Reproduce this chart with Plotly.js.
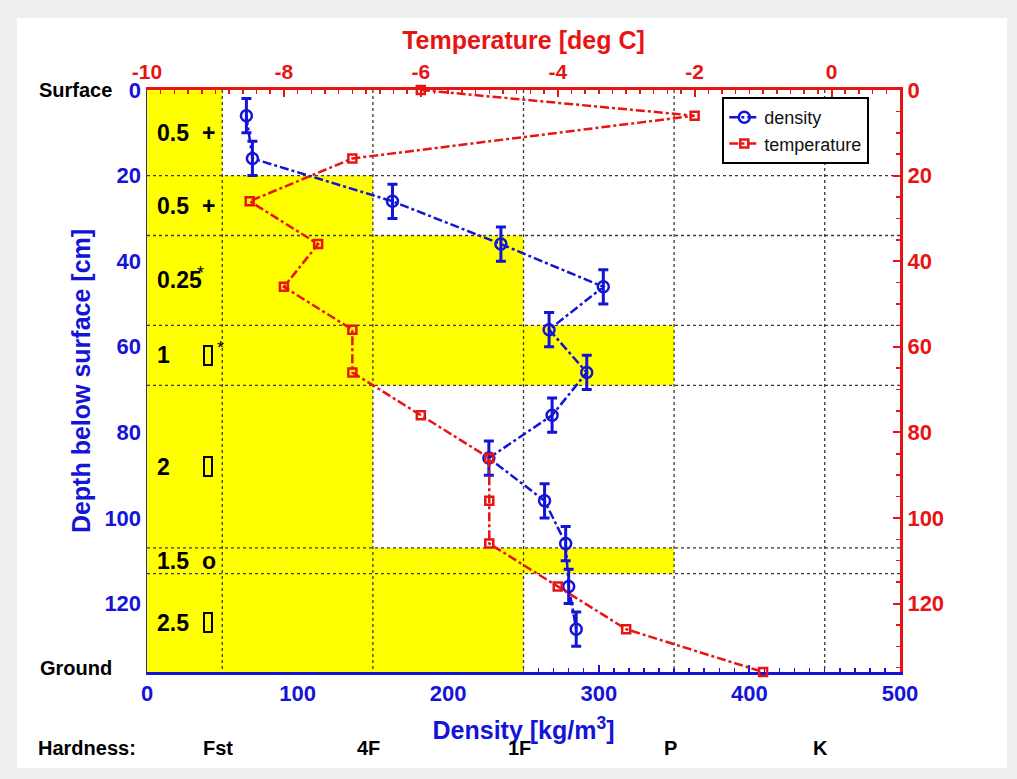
<!DOCTYPE html>
<html>
<head>
<meta charset="utf-8">
<script src="https://cdn.plot.ly/plotly-3.0.1.min.js"></script>
<style>
  html, body { margin: 0; padding: 0; background: #efefef; width: 1017px; height: 779px; overflow: hidden; }
  #chart { position: absolute; left: 17px; top: 18px; width: 990px; height: 750px; background: #fff; }
</style>
</head>
<body>
<div id="chart"></div>
<script>
// ---- data ----
const densityDepth = [6, 16, 26, 36, 46, 56, 66, 76, 86, 96, 106, 116, 126];
const densityValue = [66, 70, 163, 235, 303, 267, 292, 269, 227, 264, 278, 280, 285];
const densityDepthErr = [4, 4, 4, 4, 4, 4, 4, 4, 4, 4, 4, 4, 4];

const tempDepth = [0, 6, 16, 26, 36, 46, 56, 66, 76, 86, 96, 106, 116, 126, 136];
const tempValue = [-6.0, -2.0, -7.0, -8.5, -7.5, -8.0, -7.0, -7.0, -6.0, -5.0, -5.0, -5.0, -4.0, -3.0, -1.0];

const hardnessNames = ['Fst', '4F', '1F', 'P', 'K'];
const hardnessDensity = [50, 150, 250, 350, 450];

const layerTop = [0, 20, 34, 55, 69, 107, 113];
const layerBottom = [20, 34, 55, 69, 107, 113, 136];
const layerHardness = ['Fst', '4F', '1F', 'P', '4F', 'P', '1F'];
const layerGrainSize = ['0.5', '0.5', '0.25', '1', '2', '1.5', '2.5'];
const layerGrainShape = ['+', '+', '*', '\u25A1*', '\u25A1', 'o', '\u25A1'];

const densityTicks = [0, 100, 200, 300, 400, 500];
const tempTicks = [-10, -8, -6, -4, -2, 0];
const tempTickText = ['-10', '-8', '-6', '-4', '-2', '0'];
const depthTicks = [0, 20, 40, 60, 80, 100, 120];

// ---- style ----
const BLUE = '#1414d8';
const RED = '#e81414';
const FONT = 'Liberation Sans, Arial, sans-serif';
const depthMax = layerBottom[layerBottom.length - 1];
const densityMax = densityTicks[densityTicks.length - 1];

const traces = [];

// yellow hardness blocks
layerTop.forEach((top, i) => {
  const w = hardnessDensity[hardnessNames.indexOf(layerHardness[i])];
  const bot = layerBottom[i];
  traces.push({
    type: 'scatter', mode: 'lines', xaxis: 'x', yaxis: 'y',
    x: [0, w, w, 0, 0], y: [top, top, bot, bot, top],
    fill: 'toself', fillcolor: '#ffff00', line: { width: 0, color: '#ffff00' },
    showlegend: false, hoverinfo: 'skip'
  });
});

// grid lines (dotted) at hardness levels and layer boundaries
const gx = [], gy = [];
hardnessDensity.forEach(d => { gx.push(d, d, null); gy.push(0, depthMax, null); });
layerBottom.slice(0, -1).forEach(b => { gx.push(0, densityMax, null); gy.push(b, b, null); });
traces.push({
  type: 'scatter', mode: 'lines', xaxis: 'x', yaxis: 'y',
  x: gx, y: gy, line: { color: '#3a3a3a', width: 1.3, dash: 'dot' },
  showlegend: false, hoverinfo: 'skip'
});

// density
traces.push({
  type: 'scatter', mode: 'lines+markers', name: 'density',
  xaxis: 'x', yaxis: 'y',
  x: densityValue, y: densityDepth,
  error_y: { type: 'data', array: densityDepthErr, visible: true, color: BLUE, thickness: 3, width: 5 },
  line: { color: BLUE, width: 2.5, dash: 'dashdot' },
  marker: { symbol: 'circle-open', size: 11, color: BLUE, line: { width: 2.5, color: BLUE } },
  cliponaxis: false
});

// temperature
traces.push({
  type: 'scatter', mode: 'lines+markers', name: 'temperature',
  xaxis: 'x2', yaxis: 'y2',
  x: tempValue, y: tempDepth,
  line: { color: RED, width: 2.5, dash: 'dashdot' },
  marker: { symbol: 'square-open', size: 8, color: RED, line: { width: 2.5, color: RED } },
  cliponaxis: false
});

// annotations
const annotations = [];
const labelFont = { family: FONT, size: 23, color: '#000', weight: 'bold' };
layerTop.forEach((top, i) => {
  const mid = (top + layerBottom[i]) / 2;
  const shape = layerGrainShape[i];
  annotations.push({
    xref: 'x', yref: 'y', x: 5, y: mid, xanchor: 'left', yanchor: 'middle',
    text: layerGrainSize[i], showarrow: false, font: labelFont
  });
  const hasBox = shape.indexOf('\u25A1') >= 0;
  const hasStar = shape.indexOf('*') >= 0;
  if (hasBox) {
    annotations.push({
      xref: 'x', yref: 'y', x: 37, y: mid, xanchor: 'left', yanchor: 'middle',
      text: '&nbsp;', width: 6, height: 17, borderwidth: 2, borderpad: 0, bordercolor: '#000',
      showarrow: false, font: { family: FONT, size: 12, color: '#000' }
    });
  }
  if (hasStar) {
    annotations.push({
      xref: 'x', yref: 'y', x: hasBox ? 45 : 32, y: mid, xanchor: 'left', yanchor: 'middle',
      yshift: 7, text: '*', showarrow: false, font: { family: FONT, size: 18, color: '#000' }
    });
  }
  if (!hasBox && !hasStar) {
    annotations.push({
      xref: 'x', yref: 'y', x: 35, y: mid, xanchor: 'left', yanchor: 'middle',
      text: shape, showarrow: false, font: labelFont
    });
  }
});
annotations.push({
  xref: 'paper', yref: 'y', x: -0.044, y: 0, xanchor: 'right', yanchor: 'middle',
  text: 'Surface', showarrow: false, font: { family: FONT, size: 20, color: '#000', weight: 'bold' }
});
annotations.push({
  xref: 'paper', yref: 'y', x: -0.044, y: 135, xanchor: 'right', yanchor: 'middle',
  text: 'Ground', showarrow: false, font: { family: FONT, size: 20, color: '#000', weight: 'bold' }
});
annotations.push({
  xref: 'paper', yref: 'paper', x: -0.1474, y: -0.131, xanchor: 'left', yanchor: 'middle',
  text: 'Hardness:', showarrow: false, font: { family: FONT, size: 20, color: '#000', weight: 'bold' }
});
hardnessNames.forEach((h, i) => {
  annotations.push({
    xref: 'x', yref: 'paper', x: hardnessDensity[i], y: -0.131, xanchor: 'center', yanchor: 'middle',
    xshift: -4, text: h, showarrow: false, font: { family: FONT, size: 20, color: '#000', weight: 'bold' }
  });
});

const layout = {
  width: 990, height: 750,
  margin: { l: 130, r: 107, t: 72, b: 96 },
  paper_bgcolor: '#ffffff', plot_bgcolor: '#ffffff',
  font: { family: FONT },
  showlegend: true,
  legend: {
    x: 0.764, y: 0.988, xanchor: 'left', yanchor: 'top',
    bgcolor: '#ffffff', bordercolor: '#000', borderwidth: 2,
    font: { family: FONT, size: 18, color: '#111' }, itemwidth: 30, tracegroupgap: 0
  },
  xaxis: {
    range: [0, densityMax], tickvals: densityTicks, side: 'bottom', anchor: 'y',
    showgrid: false, zeroline: false, showline: true, linecolor: BLUE, linewidth: 3,
    ticks: 'inside', ticklen: 7, tickwidth: 2, tickcolor: BLUE,
    minor: { dtick: 10, tick0: 0, ticks: 'inside', ticklen: 4, tickwidth: 1.5, tickcolor: BLUE, showgrid: false },
    tickfont: { family: FONT, size: 22, color: BLUE, weight: 'bold' },
    title: { text: 'Density [kg/m<sup>3</sup>]', font: { family: FONT, size: 25, color: BLUE, weight: 'bold' }, standoff: 17 },
    layer: 'below traces'
  },
  xaxis2: {
    range: [-10, 1], tickvals: tempTicks, ticktext: tempTickText, side: 'top', overlaying: 'x', anchor: 'y2',
    showgrid: false, zeroline: false, showline: true, linecolor: RED, linewidth: 3,
    ticks: 'inside', ticklen: 7, tickwidth: 2, tickcolor: RED,
    minor: { dtick: 0.2, tick0: -10, ticks: 'inside', ticklen: 4, tickwidth: 1.5, tickcolor: RED, showgrid: false },
    tickfont: { family: FONT, size: 21, color: RED, weight: 'bold' },
    title: { text: 'Temperature [deg C]', font: { family: FONT, size: 25, color: RED, weight: 'bold' }, standoff: 3 }
  },
  yaxis: {
    range: [depthMax, 0], tickvals: depthTicks, side: 'left', anchor: 'x',
    showgrid: false, zeroline: false, showline: true, linecolor: '#2a2aa8', linewidth: 1.5,
    ticks: '',
    tickfont: { family: FONT, size: 22, color: BLUE, weight: 'bold' },
    title: { text: 'Depth below surface [cm]', font: { family: FONT, size: 25, color: BLUE, weight: 'bold' }, standoff: 6 },
    layer: 'below traces'
  },
  yaxis2: {
    range: [depthMax, 0], tickvals: depthTicks, side: 'right', overlaying: 'y', anchor: 'x2',
    showgrid: false, zeroline: false, showline: true, linecolor: RED, linewidth: 3,
    ticks: 'inside', ticklen: 7, tickwidth: 2, tickcolor: RED,
    minor: { dtick: 5, tick0: 0, ticks: 'inside', ticklen: 4, tickwidth: 1.5, tickcolor: RED, showgrid: false },
    tickfont: { family: FONT, size: 22, color: RED, weight: 'bold' }
  },
  annotations: annotations
};

Plotly.newPlot('chart', traces, layout, { displayModeBar: false, staticPlot: true });
</script>
</body>
</html>
